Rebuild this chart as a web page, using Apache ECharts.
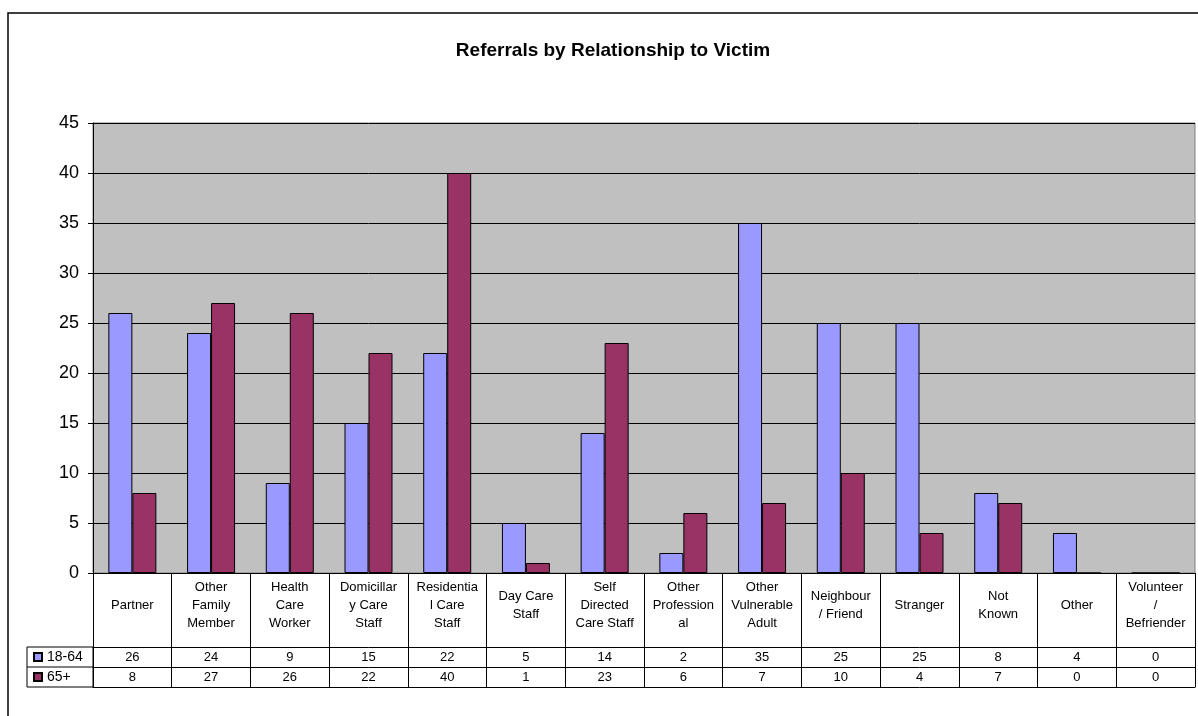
<!DOCTYPE html>
<html>
<head>
<meta charset="utf-8">
<script src="https://cdn.jsdelivr.net/npm/echarts@6/dist/echarts.min.js"></script>
<style>
html,body{margin:0;padding:0;background:#fff;}
#main{width:1198px;height:716px;}
</style>
</head>
<body>
<div id="main"></div>
<script>
const titleText = 'Referrals by Relationship to Victim';
const categories = [
  'Partner', 'Other\nFamily\nMember', 'Health\nCare\nWorker', 'Domicillar\ny Care\nStaff',
  'Residentia\nl Care\nStaff', 'Day Care\nStaff', 'Self\nDirected\nCare Staff', 'Other\nProfession\nal',
  'Other\nVulnerable\nAdult', 'Neighbour\n/ Friend', 'Stranger', 'Not\nKnown', 'Other', 'Volunteer\n/\nBefriender'
];
const seriesNames = ['18-64', '65+'];
const values1864 = [26, 24, 9, 15, 22, 5, 14, 2, 35, 25, 25, 8, 4, 0];
const values65 = [8, 27, 26, 22, 40, 1, 23, 6, 7, 10, 4, 7, 0, 0];
const yMin = 0, yMax = 45, yInterval = 5;

const FONT = "'Liberation Sans', Arial, sans-serif";
const BLACK = '#000';

function rowAxis(data, offset, showLabels, showTicks) {
  return {
    type: 'category',
    data: data,
    position: 'bottom',
    offset: offset,
    boundaryGap: true,
    axisLine: { show: true, lineStyle: { color: BLACK, width: 1 } },
    axisTick: { show: showTicks, length: 20, interval: 0, lineStyle: { color: BLACK, width: 1 } },
    axisLabel: { show: showLabels, interval: 0, margin: 10, verticalAlign: 'middle',
      fontFamily: FONT, fontSize: 13, color: BLACK }
  };
}

const chart = echarts.init(document.getElementById('main'), null, { renderer: 'canvas' });
chart.setOption({
  backgroundColor: '#fff',
  animation: false,
  title: {
    text: titleText,
    left: 608, top: 36, textAlign: 'center',
    textStyle: { fontFamily: FONT, fontSize: 19, fontWeight: 'bold', color: BLACK }
  },
  legend: {
    data: seriesNames,
    orient: 'vertical',
    left: 28, top: 645,
    itemWidth: 8, itemHeight: 8, itemGap: 6,
    icon: 'rect',
    selectedMode: false,
    textStyle: { fontFamily: FONT, fontSize: 14, color: BLACK, lineHeight: 14 }
  },
  grid: {
    left: 93, top: 123, right: 3, bottom: 143,
    show: true, backgroundColor: '#C0C0C0', borderColor: '#808080', borderWidth: 1
  },
  xAxis: [
    {
      type: 'category',
      data: categories,
      position: 'bottom',
      boundaryGap: true,
      axisLine: { show: true, lineStyle: { color: BLACK, width: 1 } },
      axisTick: { show: true, length: 74, interval: 0, lineStyle: { color: BLACK, width: 1 } },
      axisLabel: { interval: 0, margin: 32, verticalAlign: 'middle', lineHeight: 18,
        fontFamily: FONT, fontSize: 13, color: BLACK }
    },
    rowAxis(values1864.map(String), 74, true, true),
    rowAxis(values65.map(String), 94, true, true),
    rowAxis(values65.map(() => ''), 114, false, false)
  ],
  yAxis: {
    type: 'value',
    min: yMin, max: yMax, interval: yInterval,
    axisLine: { show: true, lineStyle: { color: BLACK, width: 1 } },
    axisTick: { show: true, length: 5, lineStyle: { color: BLACK } },
    axisLabel: { margin: 14, fontFamily: FONT, fontSize: 18, color: BLACK },
    splitLine: { show: true, lineStyle: { color: BLACK, width: 1 } }
  },
  graphic: [
    { type: 'rect', silent: true, z: 100,
      shape: { x: 8, y: 13, width: 1205, height: 720 },
      style: { fill: null, stroke: BLACK, lineWidth: 1.5 } },
    { type: 'rect', silent: true, z: 100,
      shape: { x: 27, y: 647, width: 66, height: 40 },
      style: { fill: null, stroke: BLACK, lineWidth: 1 } },
    { type: 'line', silent: true, z: 100,
      shape: { x1: 27, y1: 667, x2: 93, y2: 667 },
      style: { stroke: BLACK, lineWidth: 1 } }
  ],
  series: [
    {
      name: seriesNames[0], type: 'bar', xAxisIndex: 0, data: values1864,
      barWidth: 24, barGap: '0%',
      itemStyle: { color: '#9999FF', borderColor: BLACK, borderWidth: 1 }
    },
    {
      name: seriesNames[1], type: 'bar', xAxisIndex: 0, data: values65,
      barWidth: 24, barGap: '0%',
      itemStyle: { color: '#993366', borderColor: BLACK, borderWidth: 1 }
    }
  ]
});
</script>
</body>
</html>
